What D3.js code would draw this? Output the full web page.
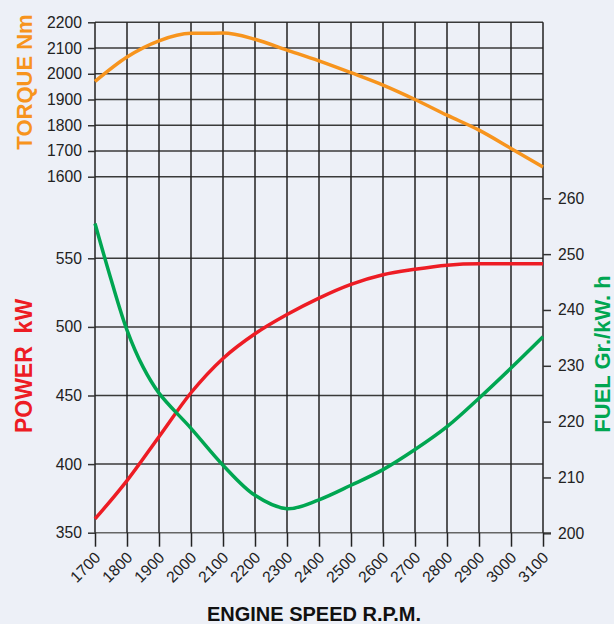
<!DOCTYPE html>
<html>
<head>
<meta charset="utf-8">
<script src="https://cdn.jsdelivr.net/npm/d3@7"></script>
<style>
  body { margin: 0; background: #edf0f7; }
  svg { display: block; font-family: "Liberation Sans", Arial, Helvetica, sans-serif; }
</style>
</head>
<body>
<script>
// values
let rpm = [1700, 1800, 1900, 2000, 2100, 2200, 2300, 2400, 2500, 2600, 2700, 2800, 2900, 3000, 3100];
let torque = [1970, 2065, 2128, 2157, 2158, 2134, 2092, 2050, 2004, 1956, 1900, 1839, 1781, 1710, 1638];
let power = [360, 388, 420, 452, 477, 495, 509, 521, 531, 538, 542, 545, 546, 546, 546];
let fuelRpm = [1700, 1750, 1800, 1850, 1900, 2000, 2100, 2200, 2300, 2400, 2500, 2600, 2700, 2800, 2900, 3000, 3100];
let fuel = [255.5, 245.5, 236.4, 229.8, 225.1, 218.8, 212.2, 206.8, 204.4, 206, 208.6, 211.4, 215, 219.1, 224.2, 229.6, 235.2];

let torqueTicks = [1600, 1700, 1800, 1900, 2000, 2100, 2200];
let powerTicks = [350, 400, 450, 500, 550];
let fuelTicks = [200, 210, 220, 230, 240, 250, 260];

let width = 614;
let height = 624;
let left = 95, right = 543;

let x = d3.scaleLinear().domain([1700, 3100]).range([left, right]);
let yT = d3.scaleLinear().domain([1600, 2200]).range([176.7, 22.3]);
let yP = d3.scaleLinear().domain([350, 550]).range([532.7, 258.3]);
let yF = d3.scaleLinear().domain([200, 260]).range([533.3, 198.3]);

let svg = d3.select("body").append("svg")
  .attr("width", width)
  .attr("height", height);

svg.append("rect").attr("width", width).attr("height", height).attr("fill", "#edf0f7");

// grid
let grid = svg.append("g");
grid.selectAll(".hT").data(torqueTicks).join("line")
  .attr("x1", left).attr("x2", right)
  .attr("y1", d => yT(d)).attr("y2", d => yT(d))
  .attr("stroke", "#3a3a3a").attr("stroke-width", 1.5);
grid.selectAll(".hP").data(powerTicks).join("line")
  .attr("x1", left).attr("x2", d => d == 350 ? right + 8 : right)
  .attr("y1", d => yP(d)).attr("y2", d => yP(d))
  .attr("stroke", d => d == 350 ? "#666" : "#3a3a3a").attr("stroke-width", 1.5);
grid.selectAll(".v").data(rpm).join("line")
  .attr("x1", d => x(d)).attr("x2", d => x(d))
  .attr("y1", yT(2200)).attr("y2", yP(350))
  .attr("stroke", "#222").attr("stroke-width", 1.5);

// axes
let styleAxis = function (g) {
  g.select(".domain").remove();
  g.selectAll(".tick line").attr("stroke", "#333").attr("stroke-width", 1.5);
  g.selectAll(".tick text").attr("fill", "#222").attr("font-size", 15.7);
};

svg.append("g").attr("transform", `translate(${left},0)`)
  .call(d3.axisLeft(yT).tickValues(torqueTicks).tickSize(7).tickPadding(6).tickFormat(d3.format("d")))
  .call(styleAxis);

svg.append("g").attr("transform", `translate(${left},0)`)
  .call(d3.axisLeft(yP).tickValues(powerTicks).tickSize(7).tickPadding(6))
  .call(styleAxis);

svg.append("g").attr("transform", `translate(${right},0)`)
  .call(d3.axisRight(yF).tickValues(fuelTicks).tickSize(8).tickPadding(7))
  .call(styleAxis);

let xAxis = svg.append("g").attr("transform", `translate(0,${yP(350)})`)
  .call(d3.axisBottom(x).tickValues(rpm).tickSize(14).tickFormat(d3.format("d")))
  .call(styleAxis);
xAxis.selectAll(".tick line").attr("stroke", "#222");
xAxis.selectAll(".tick text")
  .attr("text-anchor", "end")
  .attr("y", 0).attr("dy", 0)
  .attr("transform", "translate(6,26) rotate(-45)");

// curves
let lineT = d3.line().x((d, i) => x(rpm[i])).y(d => yT(d)).curve(d3.curveMonotoneX);
let lineP = d3.line().x((d, i) => x(rpm[i])).y(d => yP(d)).curve(d3.curveMonotoneX);
let lineF = d3.line().x((d, i) => x(fuelRpm[i])).y(d => yF(d)).curve(d3.curveCatmullRom);

svg.append("path").attr("d", lineT(torque))
  .attr("fill", "none").attr("stroke", "#f7941d").attr("stroke-width", 3.5);
svg.append("path").attr("d", lineP(power))
  .attr("fill", "none").attr("stroke", "#ed1c24").attr("stroke-width", 3.5);
svg.append("path").attr("d", lineF(fuel))
  .attr("fill", "none").attr("stroke", "#00a651").attr("stroke-width", 3.5);

// titles
svg.append("text")
  .attr("transform", "translate(32,82) rotate(-90)")
  .attr("text-anchor", "middle")
  .attr("font-size", 22).attr("font-weight", "bold").attr("fill", "#f7941d")
  .text("TORQUE Nm");

svg.append("text")
  .attr("transform", "translate(32,366) rotate(-90)")
  .attr("text-anchor", "middle")
  .attr("font-size", 23).attr("font-weight", "bold").attr("fill", "#ed1c24")
  .text("POWER\u00a0\u00a0kW");

svg.append("text")
  .attr("transform", "translate(610,354) rotate(-90)")
  .attr("text-anchor", "middle")
  .attr("font-size", 22).attr("font-weight", "bold").attr("fill", "#00a651")
  .text("FUEL Gr./kW. h");

svg.append("text")
  .attr("x", 314).attr("y", 621)
  .attr("text-anchor", "middle")
  .attr("font-size", 20).attr("font-weight", "bold").attr("fill", "#111")
  .text("ENGINE SPEED R.P.M.");
</script>
</body>
</html>
